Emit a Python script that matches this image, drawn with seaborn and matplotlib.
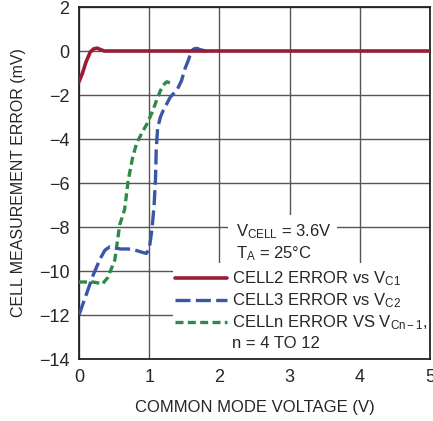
import pandas as pd
import matplotlib
matplotlib.use("Agg")
import matplotlib.pyplot as plt
import seaborn as sns
from matplotlib.lines import Line2D

# curve values (V, mV)
cell2_v = [0.0, 0.05, 0.10, 0.16, 0.21, 0.26, 0.31, 0.36, 0.5, 1.0, 2.0, 3.0, 4.0, 5.0]
cell2_err = [-1.4, -1.0, -0.5, -0.05, 0.1, 0.13, 0.06, 0.0, 0.0, 0.0, 0.0, 0.0, 0.0, 0.0]

cell3_v = [0.0, 0.1, 0.2, 0.3, 0.37, 0.44, 0.5, 0.6, 0.7, 0.8, 0.9, 0.96, 1.0, 1.04, 1.07,
           1.09, 1.10, 1.12, 1.16, 1.2, 1.3, 1.4, 1.46, 1.51, 1.56, 1.6, 1.64, 1.68, 1.73, 1.8, 1.9]
cell3_err = [-12.0, -11.1, -10.2, -9.45, -9.05, -8.9, -8.95, -9.0, -9.0, -9.05, -9.15, -9.2, -9.0,
             -8.1, -7.0, -5.8, -4.5, -3.5, -3.0, -2.7, -2.1, -1.75, -1.35, -0.8, -0.4, 0.0, 0.1,
             0.12, 0.06, 0.0, 0.0]

celln_v = [0.0, 0.1, 0.2, 0.28, 0.33, 0.41, 0.51, 0.58, 0.65, 0.7, 0.76, 0.82, 0.9, 0.97,
           1.04, 1.11, 1.16, 1.2, 1.25, 1.3, 1.34]
celln_err = [-10.5, -10.5, -10.5, -10.55, -10.6, -10.3, -9.5, -7.9, -7.2, -5.9, -4.9, -4.2,
             -3.7, -3.3, -2.8, -2.2, -1.8, -1.55, -1.4, -1.45, -1.55]

x_ticks = [0, 1, 2, 3, 4, 5]
y_ticks = [-14, -12, -10, -8, -6, -4, -2, 0, 2]

red = "#9b1c34"
blue = "#3a56a8"
green = "#2e8b47"

sns.set_style("white")
plt.rcParams["font.family"] = ["Liberation Sans", "DejaVu Sans"]
plt.rcParams["mathtext.fontset"] = "custom"
plt.rcParams["mathtext.rm"] = "Liberation Sans"
plt.rcParams["mathtext.it"] = "Liberation Sans"
plt.rcParams["axes.unicode_minus"] = True

fig = plt.figure(figsize=(4.33, 4.21), dpi=100)
ax = fig.add_axes([79 / 433, 1 - 359 / 421, 351 / 433, 352 / 421])

df2 = pd.DataFrame({"v": cell2_v, "err": cell2_err})
df3 = pd.DataFrame({"v": cell3_v, "err": cell3_err})
dfn = pd.DataFrame({"v": celln_v, "err": celln_err})

sns.lineplot(data=dfn, x="v", y="err", ax=ax, color=green, lw=2.4, zorder=3)
sns.lineplot(data=df3, x="v", y="err", ax=ax, color=blue, lw=2.4, zorder=4)
sns.lineplot(data=df2, x="v", y="err", ax=ax, color=red, lw=2.6, zorder=5)
ln_n, ln_3, ln_2 = ax.lines[:3]
ln_n.set_dashes([2.4, 1.3])
ln_3.set_dashes([4.5, 1.6])

ax.set_xlim(0, 5)
ax.set_ylim(-14, 2)
ax.set_xticks(x_ticks)
ax.set_yticks(y_ticks)
ax.grid(True, color="#555555", lw=1.0)
ax.set_axisbelow(True)
for s in ax.spines.values():
    s.set_color("#222222")
    s.set_linewidth(1.3)
ax.tick_params(axis="both", direction="in", length=3, color="#555555", labelsize=13, pad=7)
ax.set_xlabel("COMMON MODE VOLTAGE (V)", fontsize=12, labelpad=10)
ax.set_ylabel("CELL MEASUREMENT ERROR (mV)", fontsize=11.5, labelpad=9)

# white panels behind the legend and the note
ax.add_patch(plt.Rectangle((1.34, -14), 3.66, 4.36, facecolor="white", edgecolor="none", zorder=2))
ax.add_patch(plt.Rectangle((2.12, -10), 1.55, 2.55, facecolor="white", edgecolor="none", zorder=2))

ax.text(2.24, -8.7, "V$_{\\mathrm{CELL}}$ = 3.6V\nT$_{\\mathrm{A}}$ = 25°C", fontsize=12,
        va="center", ha="left", linespacing=1.25, zorder=6)

blank = Line2D([], [], color="none")
handles = [ln_2, ln_3, ln_n, blank]
labels = ["CELL2 ERROR vs V$_{\\mathrm{C1}}$", "CELL3 ERROR vs V$_{\\mathrm{C2}}$",
          "CELLn ERROR VS V$_{\\mathrm{Cn\u22121}}$,", "n = 4 TO 12"]
leg = ax.legend(handles, labels, loc="lower left", bbox_to_anchor=(0.25, 0.0),
                frameon=False, fontsize=12, handlelength=3.1, handletextpad=0.3,
                labelspacing=0.2, borderaxespad=0.1)
leg.set_zorder(7)

fig.savefig("out.png", dpi=100)
